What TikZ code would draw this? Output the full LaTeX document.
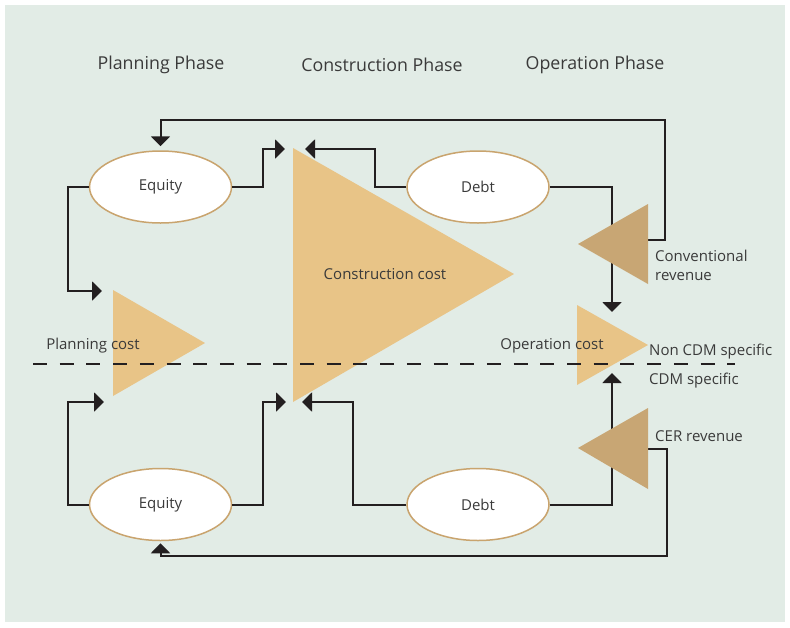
\documentclass[tikz,border=0pt]{standalone}
\usepackage{fontspec}
\setmainfont{Open Sans}
\usetikzlibrary{arrows.meta,shapes.geometric}

\definecolor{panel}{HTML}{E2ECE6}
\definecolor{costtan}{HTML}{E8C487}
\definecolor{revtan}{HTML}{C8A674}
\definecolor{rimtan}{HTML}{C9A46E}
\definecolor{ink}{HTML}{231F20}
\definecolor{txt}{HTML}{3A3A3A}

\tikzset{
    fund/.style={ellipse, draw=rimtan, line width=1.5pt, fill=white,
        minimum width=142pt, minimum height=72pt, inner sep=0pt,
        font=\fontsize{15}{17}\selectfont, text=txt},
    phase/.style={font=\fontsize{17.8}{21}\selectfont, text=txt},
    label/.style={font=\fontsize{15}{17}\selectfont, text=txt, inner sep=0pt},
    flow/.style={draw=ink, line width=2pt, -{Triangle[length=10pt,width=19pt]}},
}

\begin{document}
\begin{tikzpicture}[x=1pt,y=-1pt]
    \useasboundingbox (0,0) rectangle (790,627);
    \fill[white] (0,0) rectangle (790,627);
    \fill[panel] (5,5) rectangle (785,622);

    % phases
    \node[phase] (plan) at (161,65) {Planning Phase};
    \node[phase] (constr) at (382,65) {Construction Phase};
    \node[phase] (oper) at (595,65) {Operation Phase};

    % financing sources
    \node[fund] (eqT) at (160.5,187) {Equity};
    \node[fund] (debtT) at (478,187) {Debt};
    \node[fund] (eqB) at (160.5,504.5) {\raisebox{-3pt}{Equity}};
    \node[fund] (debtB) at (478,504.5) {\raisebox{-2pt}{Debt}};

    % arrow targets next to the cost blocks
    \coordinate (pcT) at (102,291);
    \coordinate (pcB) at (104,402);
    \coordinate (ccT1) at (285,149);
    \coordinate (ccT2) at (305,149);
    \coordinate (ccB1) at (286,402);
    \coordinate (ccB2) at (302,402);
    \coordinate (ocT) at (612,312);
    \coordinate (ocB) at (612,373);
    \coordinate (crv) at (648,240);
    \coordinate (cer) at (648,449);
    \coordinate (topbus) at (665,120);
    \coordinate (botbus) at (667,556);

    % money flows
    \draw[flow] (eqT.west) -- ++(-21,0) |- (pcT);
    \draw[flow] (eqT.east) -- ++(31,0) |- (ccT1);
    \draw[flow] (debtT.west) -- ++(-31,0) |- (ccT2);
    \draw[flow] (debtT.east) -| (ocT);
    \draw[flow, shorten >=4pt] (crv) -| (topbus) -| (eqT.north);
    \draw[flow] (eqB.west) -- ++(-21,0) |- (pcB);
    \draw[flow] (eqB.east) -- ++(31,0) |- (ccB1);
    \draw[flow] (debtB.west) -- ++(-53,0) |- (ccB2);
    \draw[flow] (debtB.east) -| (ocB);
    \draw[flow, shorten >=2pt] (cer) -| (botbus) -| (eqB.south);

    % cost blocks
    \fill[costtan] (113,290) -- (205,343) -- (113,396) -- cycle;
    \fill[costtan] (293,148) -- (514,274) -- (293,402) -- cycle;
    \fill[costtan] (577,305) -- (648,345) -- (577,385) -- cycle;
    % revenue blocks
    \fill[revtan] (648,204) -- (578,244) -- (648,284) -- cycle;
    \fill[revtan] (648,408) -- (578,448) -- (648,489) -- cycle;

    % split between the two kinds of flows
    \draw[ink, line width=1.2pt, dash pattern=on 14pt off 12.7pt] (33,364) -- (735,364);

    \node[label] (pcost) at (93,346) {Planning cost};
    \node[label] (ccost) at (385,274) {Construction cost};
    \node[label] (ocost) at (552,346) {Operation cost};
    \node[label, anchor=west, align=left] (convrev) at (655,265) {Conventional\\[2pt]revenue};
    \node[label, anchor=west] (cerrev) at (655,436) {CER revenue};
    \node[label, anchor=west] (noncdm) at (649,352) {Non CDM specific};
    \node[label, anchor=west] (cdm) at (649,381) {CDM specific};
\end{tikzpicture}
\end{document}
